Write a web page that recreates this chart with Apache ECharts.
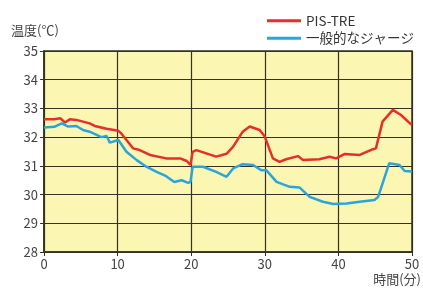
<!DOCTYPE html>
<html lang="ja">
<head>
  <meta charset="UTF-8">
  <title>温度</title>
  <script src="https://cdn.jsdelivr.net/npm/echarts@6/dist/echarts.min.js"></script>
  <style>
    html,body{padding:0;margin:0;background:#fff;}
    #chart{width:423px;height:290px;}
  </style>
</head>
<body>
  <div id="chart"></div>
  <script>
    // 時間(分), 温度(℃)
    var pisTre = [
      [0,32.62],[1.4,32.62],[2.2,32.66],[2.85,32.51],[3.5,32.62],[4.4,32.6],[5.3,32.54],[6.2,32.48],
      [6.9,32.39],[8.5,32.29],[10.1,32.22],[10.5,32.13],[12.1,31.61],[13,31.55],[14.4,31.38],
      [16.6,31.26],[18.5,31.26],[19.4,31.17],[19.9,31.03],[20.2,31.49],[20.7,31.55],[23.4,31.32],
      [24.8,31.42],[25.7,31.67],[27,32.19],[27.95,32.37],[29.3,32.25],[30,32.02],[31.1,31.26],
      [32,31.14],[32.9,31.23],[34.5,31.34],[35.2,31.2],[37.4,31.23],[38.8,31.32],[39.7,31.26],
      [40.8,31.41],[42.9,31.38],[44.7,31.58],[45.1,31.61],[46,32.54],[47.4,32.95],[48.5,32.77],
      [49.8,32.46],[50,32.43]
    ];
    var jersey = [
      [0,32.34],[1.4,32.36],[2.4,32.48],[3.3,32.37],[4.4,32.39],[5.3,32.25],[6.2,32.19],
      [7.8,32.0],[8.5,32.04],[8.95,31.81],[10.1,31.9],[11.2,31.49],[12.6,31.2],[13.9,30.97],
      [15.3,30.79],[16.6,30.64],[17.7,30.44],[18.7,30.5],[19.6,30.41],[19.9,30.44],[20.2,30.97],
      [21.6,30.97],[23.4,30.79],[24.8,30.62],[25.7,30.91],[27,31.06],[28.4,31.03],[29.5,30.85],
      [30.2,30.85],[31.6,30.44],[33.4,30.27],[34.7,30.25],[36.1,29.92],[37.9,29.75],[39.3,29.67],
      [41.1,29.69],[42.9,29.75],[44.9,29.81],[45.4,29.92],[46.9,31.09],[48.3,31.03],[49,30.82],
      [50,30.8]
    ];
    var names = ['PIS-TRE', '一般的なジャージ'];
    var colors = ['#e62e2a', '#2ba4dc'];

    var option = {
      backgroundColor: '#fff',
      textStyle: {fontFamily: 'Noto Sans CJK JP'},
      animation: false,
      grid: {left: 44, right: 11, top: 51, bottom: 38, show: true, backgroundColor: '#fbf6b2', borderColor: '#33331f', borderWidth: 1.5},
      legend: {
        orient: 'vertical', left: 262, top: 9, itemGap: 4,
        itemWidth: 34, itemHeight: 3, icon: 'rect',
        textStyle: {fontSize: 13.5, color: '#333'},
        data: names
      },
      graphic: [
        {type: 'text', left: 11, top: 24, style: {text: '温度(℃)', fontSize: 13, fill: '#444', fontFamily: 'Noto Sans CJK JP'}},
        {type: 'text', right: 2, top: 273, style: {text: '時間(分)', fontSize: 13, fill: '#444', fontFamily: 'Noto Sans CJK JP'}}
      ],
      xAxis: {
        type: 'value', min: 0, max: 50, interval: 10,
        axisLine: {show: true, lineStyle: {color: '#33331f', width: 1.5}},
        axisTick: {show: true, length: 4, lineStyle: {color: '#33331f'}},
        axisLabel: {color: '#444', fontSize: 13, margin: 6},
        splitLine: {show: true, lineStyle: {color: '#33331f', width: 1.2}}
      },
      yAxis: {
        type: 'value', min: 28, max: 35, interval: 1,
        axisLine: {show: true, lineStyle: {color: '#33331f', width: 1.5}},
        axisTick: {show: true, length: 4, lineStyle: {color: '#33331f'}},
        axisLabel: {color: '#444', fontSize: 13, margin: 6},
        splitLine: {show: true, lineStyle: {color: '#33331f', width: 1.2}}
      },
      series: [
        {name: names[0], type: 'line', data: pisTre, symbol: 'none', color: colors[0], lineStyle: {width: 2.5}},
        {name: names[1], type: 'line', data: jersey, symbol: 'none', color: colors[1], lineStyle: {width: 2.5}}
      ]
    };
    var myChart = echarts.init(document.getElementById('chart'));
    myChart.setOption(option);
  </script>
</body>
</html>
